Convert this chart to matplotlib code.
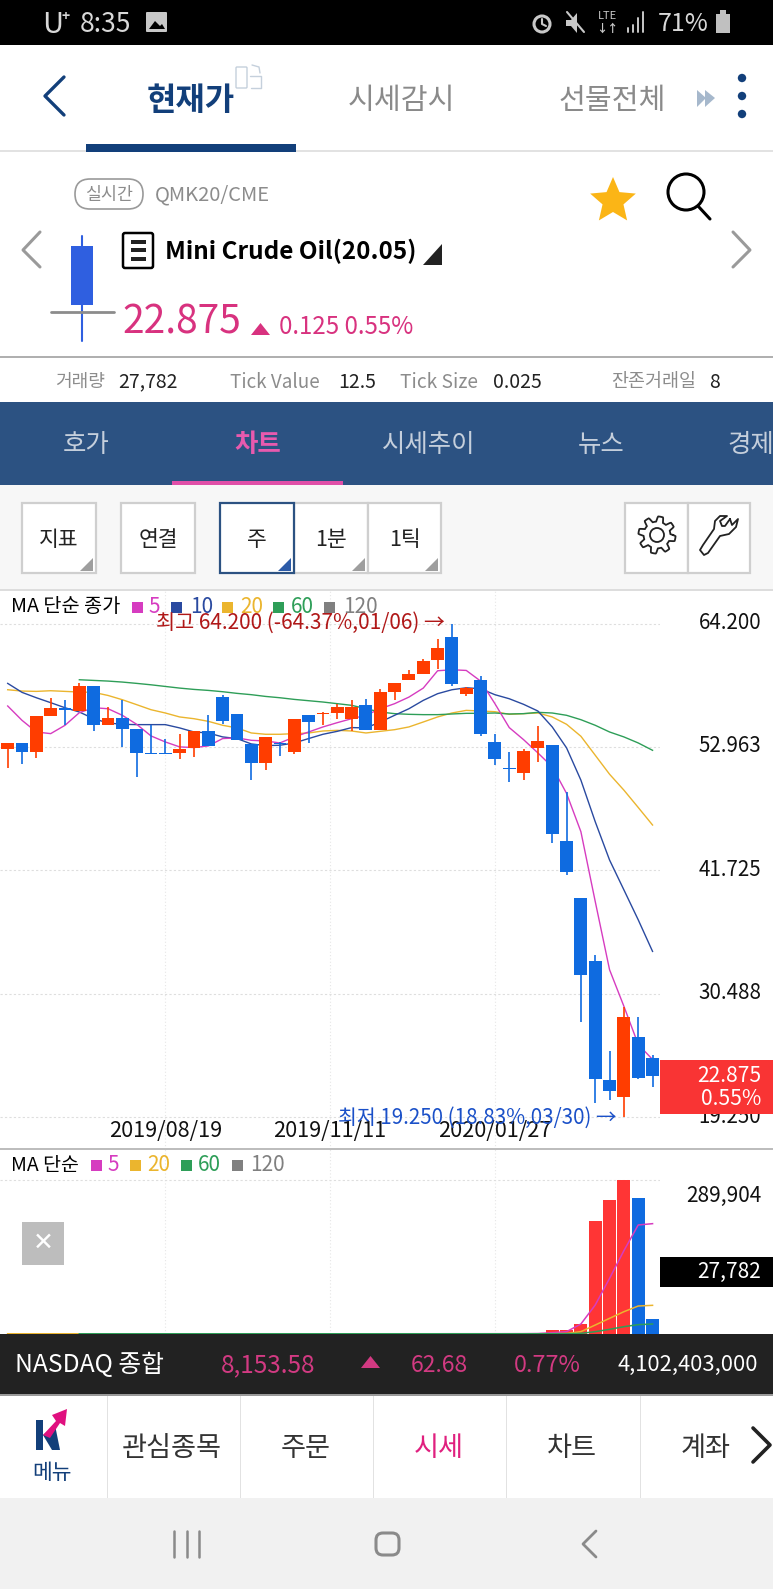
import numpy as np
import matplotlib
matplotlib.use('Agg')
import matplotlib.pyplot as plt
from matplotlib.patches import Rectangle, Circle, Polygon, FancyBboxPatch

plt.rcParams['font.family'] = ['Noto Sans CJK KR', 'DejaVu Sans']

# weekly candles
opens = [52.81, 53.35, 52.50, 55.84, 56.56, 56.29, 58.53, 55.02, 55.62, 54.59, 52.44, 52.44,
         52.44, 52.87, 54.47, 57.53, 55.96, 53.29, 51.53, 53.35, 52.56, 55.87, 55.99, 56.05,
         55.56, 56.81, 54.53, 58.02, 59.11, 59.65, 60.90, 63.05, 57.81, 59.05, 53.47, 51.08,
         50.59, 52.90, 53.17, 44.38, 39.26, 33.44, 22.59, 21.08, 26.53, 24.59]
closes = [53.35, 52.50, 55.81, 56.56, 56.32, 58.53, 55.02, 55.62, 54.65, 52.47, 52.38, 52.38,
          52.84, 54.47, 53.08, 55.38, 53.62, 51.53, 53.90, 53.26, 55.56, 55.29, 56.08, 56.62,
          56.62, 54.53, 57.96, 58.84, 59.59, 60.84, 62.05, 58.68, 58.38, 54.20, 51.87, 50.96,
          52.65, 53.53, 45.02, 41.59, 32.17, 22.68, 21.59, 28.38, 22.81, 22.96]
highs = [53.35, 53.35, 55.81, 57.47, 57.23, 58.81, 58.53, 56.62, 57.23, 54.59, 55.02, 53.68,
         54.20, 54.47, 55.87, 57.75, 55.96, 53.29, 53.90, 53.44, 55.56, 55.87, 56.17, 56.93,
         57.23, 57.38, 58.26, 58.84, 60.02, 61.02, 62.87, 64.20, 58.44, 59.41, 54.20, 52.53,
         52.81, 54.87, 53.17, 48.84, 39.26, 33.99, 25.29, 29.26, 28.38, 24.87]
lows = [51.08, 51.47, 51.99, 55.84, 54.96, 56.29, 54.41, 55.02, 52.99, 50.26, 52.38, 52.38,
        51.93, 52.08, 53.08, 55.11, 53.62, 49.96, 50.93, 52.17, 52.38, 53.38, 55.02, 55.56,
        54.44, 54.53, 54.53, 57.29, 59.11, 59.65, 60.08, 58.53, 57.65, 54.02, 51.32, 49.78,
        49.96, 51.59, 44.20, 41.35, 27.93, 20.56, 20.81, 19.25, 22.68, 21.96]

ma5 = [56.72, 55.41, 54.35, 54.20, 54.96, 56.11, 56.56, 56.47, 55.87, 55.05, 53.99, 53.44,
       52.99, 52.93, 53.08, 53.75, 53.81, 53.59, 53.53, 53.35, 53.90, 54.35, 54.81, 55.20,
       55.56, 55.87, 56.47, 56.93, 57.53, 58.35, 59.93, 60.02, 59.96, 58.99, 56.93, 54.75,
       53.65, 52.44, 51.17, 48.75, 45.26, 38.90, 32.68, 29.35, 25.87, 24.50]
ma10 = [58.78, 57.96, 57.47, 57.02, 56.56, 56.17, 55.56, 55.17, 55.05, 55.02, 55.02, 55.02,
        54.72, 54.35, 54.26, 53.90, 53.75, 53.26, 53.11, 53.14, 53.35, 53.75, 54.14, 54.41,
        54.75, 54.72, 55.26, 55.87, 56.47, 57.23, 57.84, 58.20, 58.38, 58.29, 57.75, 57.38,
        56.87, 56.26, 54.81, 52.90, 49.96, 46.17, 42.68, 39.96, 37.23, 34.35]
ma20 = [58.20, 58.08, 58.05, 58.11, 58.05, 57.99, 57.96, 57.68, 57.29, 56.84, 56.38, 56.08,
        55.72, 55.56, 55.32, 54.96, 54.72, 54.26, 54.14, 54.14, 54.20, 54.26, 54.44, 54.50,
        54.44, 54.26, 54.41, 54.56, 54.81, 55.26, 55.72, 56.08, 56.32, 56.26, 56.20, 55.96,
        56.02, 56.08, 55.72, 55.05, 53.96, 52.23, 50.50, 49.05, 47.47, 45.87]
# starts at the sixth candle
ma60 = [59.11, 59.05, 58.99, 58.90, 58.78, 58.65, 58.50, 58.35, 58.23, 58.14, 58.02, 57.87,
        57.75, 57.59, 57.47, 57.32, 57.20, 57.08, 56.93, 56.78, 56.47, 56.17, 56.02, 55.96,
        55.93, 55.93, 55.99, 56.05, 56.05, 56.08, 55.99, 56.02, 56.14, 56.08, 55.87, 55.47,
        54.96, 54.35, 53.90, 53.35, 52.68]

volumes = [400, 350, 500, 400, 350, 500, 450, 380, 420, 500, 300, 250, 400, 380, 450, 500,
           450, 520, 480, 300, 500, 420, 300, 380, 450, 520, 600, 420, 380, 450, 500, 700,
           450, 650, 600, 500, 800, 2400, 7500, 7500, 19400, 213300, 251700, 289904, 255500,
           27782]
vol_ma5 = [450, 430, 420, 420, 420, 430, 450, 440, 430, 440, 420, 390, 380, 370, 380, 400,
           420, 450, 470, 450, 450, 440, 420, 400, 410, 420, 450, 470, 470, 480, 480, 530,
           540, 550, 580, 600, 650, 900, 2500, 4400, 18800, 54600, 104800, 156900, 205300,
           207800]
vol_ma20 = [430] * 38 + [600, 900, 4400, 16900, 29500, 42000, 52700, 54000]
vol_ma60 = [440] * 30 + [450, 460, 480, 520, 600, 1200, 4400, 8800, 13800, 17600, 18800]

date_ticks = [11, 22.5, 34]
date_labels = ['2019/08/19', '2019/11/11', '2020/01/27']
price_ticks = [64.2, 52.963, 41.725, 30.488, 19.25]
price_labels = ['64.200', '52.963', '41.725', '30.488', '19.250']

W, H = 773, 1589
RED = '#FF3D00'
BLUE = '#0F6BE0'
MA_COLORS = {'5': '#D63CC0', '10': '#2A4AA0', '20': '#EBB52E', '60': '#2E9E58', '120': '#808080'}
NAVY = '#123F7A'
PINK = '#D8327F'
GRAY = '#8C8C8C'

fig = plt.figure(figsize=(W / 100, H / 100), dpi=100, facecolor='white')


def px_axes(x0, y0, x1, y1, **kw):
    return fig.add_axes([x0 / W, 1 - y1 / H, (x1 - x0) / W, (y1 - y0) / H], **kw)


# price panel
xs = np.arange(len(opens))
xlim = (-0.537, 45.52)
ax = px_axes(0, 591, 660, 1149, zorder=1)
ax.set_xlim(*xlim)
ax.set_ylim(16.34, 67.2)
ax.set_yticks(price_ticks)
ax.set_xticks(date_ticks)
ax.tick_params(length=0, labelbottom=False, labelleft=False)
ax.grid(True, axis='y', color='#DEDEDE', linestyle=(0, (2, 2)), linewidth=0.8)
ax.grid(True, axis='x', color='#E6E6E6', linestyle=(0, (1, 2)), linewidth=0.8)
ax.set_axisbelow(True)
for s in ax.spines.values():
    s.set_visible(False)

ax.plot(xs, ma20, color=MA_COLORS['20'], lw=1.0, zorder=2)
ax.plot(xs[5:], ma60, color=MA_COLORS['60'], lw=1.0, zorder=2)
ax.plot(xs, ma10, color=MA_COLORS['10'], lw=1.0, zorder=2)
ax.plot(xs, ma5, color=MA_COLORS['5'], lw=1.0, zorder=2)

candle_colors = [RED if c >= o else BLUE for o, c in zip(opens, closes)]
ax.vlines(xs, lows, highs, colors=candle_colors, lw=1.2, zorder=3)
ax.bar(xs, np.array(closes) - np.array(opens), 0.9, bottom=opens, color=candle_colors, zorder=3)

# volume panel, red when volume rose on the week before
vax = px_axes(0, 1149, 660, 1334, zorder=1)
vax.set_xlim(*xlim)
vax.set_ylim(0, 348400)
vax.set_yticks([289904])
vax.set_xticks(date_ticks)
vax.tick_params(length=0, labelbottom=False, labelleft=False)
vax.grid(True, axis='y', color='#DEDEDE', linestyle=(0, (2, 2)), linewidth=0.8)
vax.grid(True, axis='x', color='#E6E6E6', linestyle=(0, (1, 2)), linewidth=0.8)
vax.set_axisbelow(True)
for s in vax.spines.values():
    s.set_visible(False)
vol_colors = ['#FF3535' if i and volumes[i] >= volumes[i - 1] else BLUE for i in range(len(volumes))]
vax.bar(xs, volumes, 0.9, color=vol_colors, zorder=2)
vax.plot(xs, vol_ma5, color=MA_COLORS['5'], lw=1.1, zorder=3)
vax.plot(xs, vol_ma20, color=MA_COLORS['20'], lw=1.1, zorder=3)
vax.plot(xs[5:], vol_ma60, color=MA_COLORS['60'], lw=1.1, zorder=3)

# screen furniture, in pixel coordinates
ui = fig.add_axes([0, 0, 1, 1], zorder=5)
ui.set_xlim(0, W)
ui.set_ylim(H, 0)
ui.axis('off')
ui.patch.set_alpha(0)


def txt(x, y, s, size, color='black', ha='center', weight='normal'):
    return ui.text(x, y + 2, s, fontsize=size, color=color, ha=ha, va='center', fontweight=weight)


def rect(x0, y0, x1, y1, color, z=1, **kw):
    ui.add_patch(Rectangle((x0, y0), x1 - x0, y1 - y0, facecolor=color, edgecolor='none', zorder=z, **kw))


def poly(points, color, z=3):
    ui.add_patch(Polygon(points, closed=True, facecolor=color, edgecolor='none', zorder=z))


def stroke(points, color, lw=2, z=3):
    p = np.array(points)
    ui.plot(p[:, 0], p[:, 1], color=color, lw=lw, zorder=z, solid_capstyle='round', solid_joinstyle='round')


# status bar
rect(0, 0, W, 45, 'black')
txt(42, 23, 'U', 21, '#D8D8D8', 'left')
txt(62, 15, '+', 10, '#D8D8D8', 'left', 'bold')
txt(80, 22, '8:35', 19, '#D8D8D8', 'left')
ui.add_patch(FancyBboxPatch((147, 13), 19, 18, boxstyle='round,pad=1', facecolor='#C8C8C8', edgecolor='none', zorder=3))
poly([(149, 29), (155, 21), (160, 26), (162, 24), (165, 29)], 'black', 4)
ui.add_patch(Circle((542, 24), 8, facecolor='none', edgecolor='#C8C8C8', lw=2.2, zorder=3))
stroke([(542, 19), (542, 24), (546, 26)], '#C8C8C8', 1.5)
poly([(566, 20), (571, 20), (577, 13), (577, 33), (571, 26), (566, 26)], '#C8C8C8')
stroke([(567, 12), (584, 32)], '#C8C8C8', 1.5)
txt(607, 14, 'LTE', 8, '#C8C8C8')
txt(607, 26, '↓↑', 8, '#C8C8C8', weight='bold')
for bx, by in zip([628, 633, 638, 643], [28, 25, 18, 12]):
    stroke([(bx, by), (bx, 32)], '#C8C8C8', 1.4)
txt(658, 22, '71%', 18, '#D8D8D8', 'left')
rect(716, 14, 730, 33, '#C0C0C0', 3)
rect(720, 10, 726, 14, '#C0C0C0', 3)

# top tabs
stroke([(64, 77), (45, 96), (64, 115)], NAVY, 2.4)
txt(191, 99, '현재가', 23, NAVY, weight='bold')
txt(401, 99, '시세감시', 21, '#8A8A8A')
txt(612, 99, '선물전체', 21, '#8A8A8A')
ui.add_patch(FancyBboxPatch((237, 68), 9, 19, boxstyle='round,pad=1', facecolor='none', edgecolor='#C5D0DC', lw=1, zorder=3))
stroke([(250, 76), (261, 76), (261, 88), (251, 88)], '#C5D0DC', 1)
stroke([(252, 65), (259, 67), (260, 73)], '#C5D0DC', 1)
poly([(697, 90), (706, 98), (697, 107)], '#A6B8CC')
poly([(705, 90), (715, 98), (705, 107)], '#A6B8CC')
for dy in [78, 96, 114]:
    ui.add_patch(Circle((742, dy), 4.2, facecolor=NAVY, edgecolor='none', zorder=3))
rect(0, 150, W, 152, '#E2E2E2')
rect(86, 144, 296, 152, NAVY, 2)

# instrument header
ui.add_patch(FancyBboxPatch((75, 179), 68, 30, boxstyle='round,pad=0,rounding_size=15', facecolor='white',
                            edgecolor='#9A9A9A', lw=1.2, zorder=3))
txt(109, 193, '실시간', 12.5, GRAY).set_zorder(4)
txt(155, 193, 'QMK20/CME', 14.5, GRAY, 'left')
star_angle = np.deg2rad(np.arange(10) * 36 - 90)
star_r = np.array([24, 11] * 5)
poly(np.c_[613 + star_r * np.cos(star_angle), 201 + star_r * np.sin(star_angle)], '#FBB516')
ui.add_patch(Circle((686, 192), 18, facecolor='none', edgecolor='black', lw=2.2, zorder=3))
stroke([(698, 206), (710, 219)], 'black', 2.2)
stroke([(40, 232), (23, 250), (40, 267)], '#9A9A9A', 2.2)
stroke([(733, 232), (750, 250), (733, 267)], '#9A9A9A', 2.2)
stroke([(82, 236), (82, 341)], '#2F5FE0', 1.5)
rect(71, 246, 93, 305, '#2F5FE0', 3)
stroke([(51, 312), (114, 312)], '#8C8C8C', 2)
ui.add_patch(FancyBboxPatch((123, 233), 30, 35, boxstyle='round,pad=0,rounding_size=2', facecolor='white',
                            edgecolor='black', lw=1.8, zorder=3))
for by in [242, 250, 259]:
    rect(131, by - 2, 146, by + 2, '#222222', 4)
txt(165, 249, 'Mini Crude Oil(20.05)', 17.5, 'black', 'left', 'bold')
poly([(423, 265), (442, 265), (442, 244)], '#222222')
txt(122, 320, '22.875', 28, PINK, 'left')
poly([(251, 335), (270, 335), (260.5, 323)], PINK)
txt(279, 325, '0.125 0.55%', 17.3, PINK, 'left')
rect(0, 356, W, 357.5, '#B0B0B0')
txt(55, 380, '거래량', 13, GRAY, 'left')
txt(118, 380, '27,782', 14, '#222222', 'left')
txt(230, 380, 'Tick Value', 13.6, GRAY, 'left')
txt(338, 380, '12.5', 14, '#222222', 'left')
txt(400, 380, 'Tick Size', 13.8, GRAY, 'left')
txt(493, 380, '0.025', 14, '#222222', 'left')
txt(611, 380, '잔존거래일', 13.3, GRAY, 'left')
txt(709, 380, '8', 14, '#222222', 'left')

# blue tab band
rect(0, 402, W, 485, '#2C5282')
for tx, label in zip([86, 429, 601], ['호가', '시세추이', '뉴스']):
    txt(tx, 443, label, 18.3, '#C5CFDC')
txt(258, 443, '차트', 18.3, '#E85AAE', weight='bold')
txt(751, 443, '경제', 18.3, '#C5CFDC')
rect(172, 481, 343, 485, '#E04FA8', 2)

# toolbar
rect(0, 485, W, 589, '#F7F7F7')
rect(0, 589, W, 591, '#DDDDDD')


def button(x0, x1, label, edge='#CFCFCF', tri='#9E9E9E', z=3):
    ui.add_patch(Rectangle((x0, 503), x1 - x0, 70, facecolor='white', edgecolor=edge, lw=1.6, zorder=z))
    if label:
        txt((x0 + x1) / 2, 538, label, 15.5, '#222222').set_zorder(z + 1)
    if tri:
        poly([(x1 - 3, 571), (x1 - 16, 571), (x1 - 3, 558)], tri, z + 1)


button(22, 96, '지표')
button(121, 195, '연결', tri=None)
button(294, 368, '1분')
button(368, 441, '1틱')
button(220, 294, '주', edge='#2C5282', tri='#2C5BA8', z=4)
button(625, 688, '', tri=None)
button(688, 750, '', tri=None)
gear_t = np.linspace(0, 2 * np.pi, 193)
gear_r = 16 + 2.6 * np.clip(2.2 * np.sin(8 * gear_t), -1, 1)
ui.plot(657 + gear_r * np.cos(gear_t), 535 + gear_r * np.sin(gear_t), color='#222222', lw=1.3, zorder=5)
ui.add_patch(Circle((657, 535), 7, facecolor='none', edgecolor='#222222', lw=1.3, zorder=5))
stroke([(730, 519), (725, 526), (722, 526), (720, 521), (727, 516), (720, 516), (715, 521), (714, 529),
        (703, 545), (700, 550), (704, 555), (708, 553), (720, 536), (729, 534), (736, 527), (738, 519),
        (732, 525), (730, 519)], '#222222', 1.3, 5)

# price panel text
txt(11, 605, 'MA 단순 종가', 14.2, 'black', 'left')


def legend(items, y, size):
    for x_box, x_txt, name in items:
        rect(x_box, y - 5.5, x_box + 11, y + 5.5, MA_COLORS[name], 3)
        txt(x_txt, y - 2, name, size, MA_COLORS[name], 'left')


legend([(132, 148, '5'), (171, 190, '10'), (222, 240, '20'), (273, 291, '60'), (324, 343, '120')], 607, 15)
for tick, label in zip(price_ticks, price_labels):
    txt(761, 621 + (64.2 - tick) * 10.99, label, 14.8, '#111111', 'right')
for tick, label in zip(date_ticks, date_labels):
    txt(7.7 + 14.33 * tick, 1129, label, 15.6, '#111111')
txt(445, 621, '최고 64.200 (-64.37%,01/06) →', 15, '#B01818', 'right')
txt(616, 1116, '최저 19.250 (18.83%,03/30) →', 14.8, '#1A50C8', 'right')
rect(660, 1060, W, 1114, '#F93434', 6)
txt(761, 1074, '22.875', 15.2, 'white', 'right').set_zorder(7)
txt(761, 1097, '0.55%', 15.2, 'white', 'right').set_zorder(7)
rect(0, 1148, W, 1150, '#BDBDBD')

# volume panel text
txt(11, 1163, 'MA 단순', 14, 'black', 'left')
legend([(91, 107, '5'), (130, 147, '20'), (181, 198, '60'), (232, 250, '120')], 1165, 15)
txt(761, 1194, '289,904', 15, '#111111', 'right')
rect(660, 1257, W, 1287, 'black', 3)
txt(761, 1270, '27,782', 15, 'white', 'right').set_zorder(4)
rect(22, 1222, 64, 1265, '#BDBDBD', 3)
txt(43, 1241, '✕', 18, 'white', weight='bold').set_zorder(4)

# index ticker
rect(0, 1334, W, 1394, '#222222', 3)
txt(15, 1363, 'NASDAQ 종합', 17.8, 'white', 'left').set_zorder(4)
txt(221, 1363, '8,153.58', 17.5, '#D23A82', 'left').set_zorder(4)
poly([(361, 1368), (380, 1368), (370.5, 1356)], '#D23A82', 4)
txt(411, 1363, '62.68', 16.5, '#D23A82', 'left').set_zorder(4)
txt(514, 1363, '0.77%', 16.8, '#D23A82', 'left').set_zorder(4)
txt(618, 1363, '4,102,403,000', 15.8, 'white', 'left').set_zorder(4)

# bottom menu
rect(0, 1394, W, 1395.5, '#9A9A9A', 4)
for dx in [107, 240, 373, 506, 640]:
    rect(dx, 1395, dx + 1, 1498, '#E2E2E2', 2)
txt(172, 1447, '관심종목', 19.6, '#333333')
txt(306, 1447, '주문', 19.6, '#333333')
txt(439, 1447, '시세', 19.6, '#E0207F')
txt(572, 1447, '차트', 19.6, '#333333')
txt(706, 1447, '계좌', 19.6, '#333333')
stroke([(753, 1428), (770, 1445), (753, 1462)], '#222222', 2.6)
poly([(36, 1420), (43, 1420), (43, 1450), (36, 1450)], NAVY)
poly([(43, 1435), (55, 1425), (60, 1450), (52, 1450)], NAVY)
poly([(43, 1435), (56, 1421), (52, 1415), (67, 1409), (65, 1426), (60, 1423), (50, 1438)], '#E0107F', 4)
txt(52, 1471, '메뉴', 15.5, NAVY)

# android nav bar
rect(0, 1498, W, H, '#F1F1F1')
for nx in [174, 186.5, 199]:
    stroke([(nx, 1531), (nx, 1557)], '#8A8A8A', 1.8)
ui.add_patch(FancyBboxPatch((376, 1533), 23, 22, boxstyle='round,pad=0,rounding_size=7', facecolor='none',
                            edgecolor='#8A8A8A', lw=2.2, zorder=3))
stroke([(596, 1531), (583, 1544), (596, 1557)], '#8A8A8A', 2)

fig.savefig('out.png', dpi=100)
